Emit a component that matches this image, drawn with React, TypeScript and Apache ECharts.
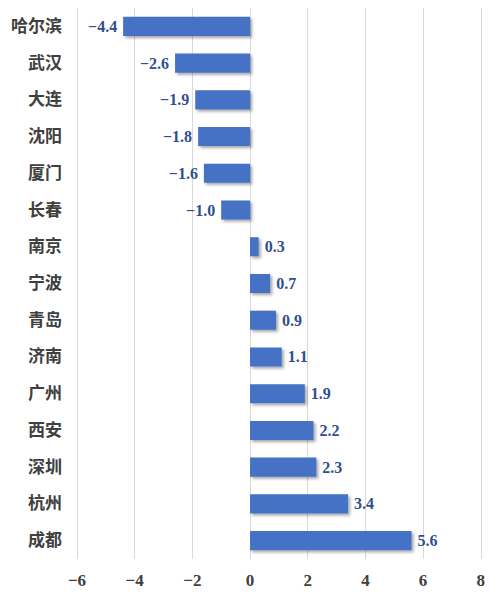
import React, { useEffect, useRef } from "react";
import * as echarts from "echarts";

const cities = ["哈尔滨", "武汉", "大连", "沈阳", "厦门", "长春", "南京", "宁波", "青岛", "济南", "广州", "西安", "深圳", "杭州", "成都"];
const values = [-4.4, -2.6, -1.9, -1.8, -1.6, -1.0, 0.3, 0.7, 0.9, 1.1, 1.9, 2.2, 2.3, 3.4, 5.6];
const xMin = -6;
const xMax = 8;
const xStep = 2;

const fmt = (v: number, digits: number) => {
  const s = Math.abs(v).toFixed(digits);
  return v < 0 ? "\u2212" + s : s;
};

const FONT = "'Liberation Serif', 'Noto Sans CJK SC', serif";

export default function App() {
  const ref = useRef<HTMLDivElement>(null);
  useEffect(() => {
    if (!ref.current) return;
    const chart = echarts.init(ref.current, undefined, { renderer: "svg" });
    chart.setOption({
      animation: false,
      backgroundColor: "#ffffff",
      grid: { left: 61.5, right: 2.5, top: 0, bottom: 33 },
      xAxis: {
        type: "value",
        min: xMin,
        max: xMax,
        interval: xStep,
        axisLine: { show: false },
        axisTick: { show: false },
        splitLine: { lineStyle: { color: "#d9d9d9", width: 1 } },
        axisLabel: {
          formatter: (v: number) => fmt(v, 0),
          color: "#404040",
          fontFamily: FONT,
          fontWeight: "bold",
          fontSize: 17,
          margin: 13,
        },
      },
      yAxis: {
        type: "category",
        inverse: true,
        data: cities,
        axisLine: { show: false },
        axisTick: { show: false },
        axisLabel: {
          color: "#404040",
          fontFamily: FONT,
          fontWeight: "bold",
          fontSize: 17,
          margin: 15,
        },
      },
      series: [
        {
          type: "bar",
          barCategoryGap: "48%",
          data: values.map((v) => ({
            value: v,
            label: { position: v < 0 ? "left" : "right" },
          })),
          itemStyle: {
            color: "#4472c4",
            shadowColor: "rgba(0,0,0,0.35)",
            shadowBlur: 3,
            shadowOffsetX: 2,
            shadowOffsetY: 2,
          },
          label: {
            show: true,
            formatter: (p: any) => fmt(p.value, 1),
            color: "#2f4f8f",
            fontFamily: FONT,
            fontWeight: "bold",
            fontSize: 16,
            distance: 6,
          },
        },
      ],
    });
    return () => chart.dispose();
  }, []);
  return <div ref={ref} style={{ width: 480, height: 584 }} />;
}
